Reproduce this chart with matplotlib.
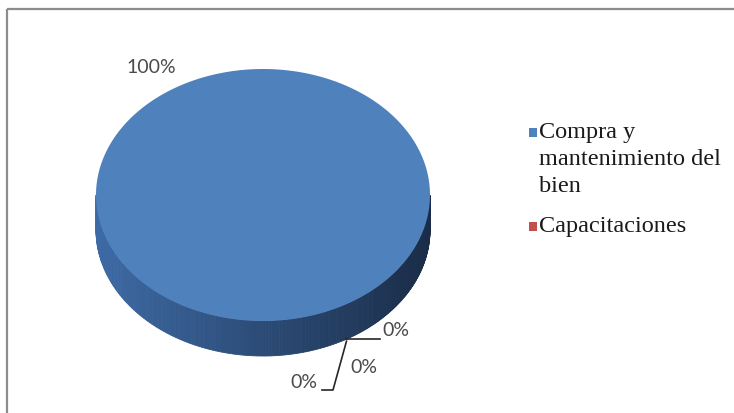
import numpy as np
import matplotlib.pyplot as plt
from matplotlib.patches import Polygon, Rectangle

# datos del gráfico
categorias = ["Compra y\nmantenimiento del\nbien", "Capacitaciones"]
valores = [100, 0, 0, 0]          # las dos últimas porciones vacías no salen en la leyenda
colores = ["#4F81BD", "#C0504D", "#9BBB59", "#8064A2"]

# geometría del pastel 3D (en píxeles)
cx, cy, rx, ry, prof = 263, 196, 167, 126, 35
angulo_inicio = 150   # grados, sentido horario desde las 12


def punto(t, dy=0.0, f=1.0):
    r = np.radians(t)
    return cx + f * rx * np.sin(r), cy - f * ry * np.cos(r) + dy


def mezcla(c1, c2, s):
    c1 = np.array(plt.matplotlib.colors.to_rgb(c1))
    c2 = np.array(plt.matplotlib.colors.to_rgb(c2))
    return tuple(c1 * (1 - s) + c2 * s)


fig = plt.figure(figsize=(7.34, 4.14), dpi=100)
ax = fig.add_axes([0, 0, 1, 1])
ax.set_xlim(0, 734)
ax.set_ylim(414, 0)
ax.axis("off")

# marco del gráfico
ax.add_patch(Rectangle((7, 10), 900, 600, fill=False, edgecolor="#8c8c8c", lw=1.6))

total = sum(valores)
angulos = np.cumsum([0] + [v / total * 360 for v in valores]) + angulo_inicio

# caras laterales (solo la mitad inferior es visible)
for i, v in enumerate(valores):
    a, b = angulos[i], angulos[i + 1]
    if v <= 0:
        continue
    for k in (0, 360):
        lo, hi = max(a, 90 + k), min(b, 270 + k)
        if hi <= lo:
            continue
        ts = np.linspace(lo, hi, 120)
        for t0, t1 in zip(ts[:-1], ts[1:]):
            s = (np.sin(np.radians((t0 + t1) / 2)) + 1) / 2
            col = mezcla("#3d6aa5", "#1a2c47", s)
            pts = [punto(t0), punto(t1), punto(t1, prof), punto(t0, prof)]
            ax.add_patch(Polygon(pts, closed=True, facecolor=col, edgecolor=col, lw=0.6))

# caras superiores
for i, v in enumerate(valores):
    a, b = angulos[i], angulos[i + 1]
    if v <= 0:
        continue
    ts = np.linspace(a, b, 300)
    pts = [punto(t) for t in ts]
    if v < total:
        pts = [(cx, cy)] + pts
    ax.add_patch(Polygon(pts, closed=True, facecolor=colores[i], edgecolor="none"))

# etiquetas de porcentaje
fuente = dict(family=["Lato", "DejaVu Sans"], fontsize=14, color="#4a4a4a")
pos_cero = [(382, 331), (350, 368), (290, 383)]
j = 0
for i, v in enumerate(valores):
    pct = f"{v / total * 100:.0f}%"
    medio = (angulos[i] + angulos[i + 1]) / 2
    if v > 0:
        x, y = punto(medio, 0, 1.0)
        ax.text(x - 28, y - 19, pct, ha="center", va="center", **fuente)
    else:
        ax.text(*pos_cero[j], pct, ha="left", va="center", **fuente)
        j += 1

# líneas guía de las etiquetas en cero
ax0 = punto(angulos[1], prof)
ax.plot([ax0[0], 380], [ax0[1], ax0[1]], color="#262626", lw=1.2)
ax.plot([ax0[0], 333, 322], [ax0[1] + 2, 391, 391], color="#262626", lw=1.2)

# leyenda
ley_y = [133, 227]
for k, nombre in enumerate(categorias):
    ax.add_patch(Rectangle((529, ley_y[k] - 4.5), 8, 9, facecolor=colores[k], edgecolor="none"))
    ax.text(539, ley_y[k] - 11, nombre, ha="left", va="top", linespacing=1.38,
            family=["Liberation Serif", "DejaVu Serif"], fontsize=17.5, color="#1a1a1a")

fig.savefig("out.png", dpi=100)
